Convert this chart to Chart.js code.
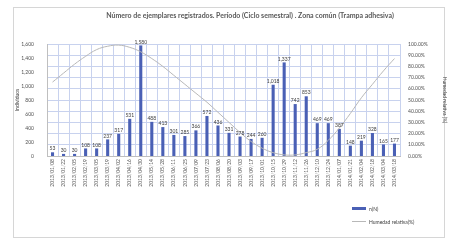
<!DOCTYPE html>
<html>
<head>
<meta charset="utf-8">
<script src="https://cdn.jsdelivr.net/npm/chart.js@4.4.0/dist/chart.umd.min.js"></script>
<style>
  html, body { margin: 0; padding: 0; background: #fff; }
  #wrap { position: relative; width: 462px; height: 244px; }
  #marco { position: absolute; left: 13px; top: 7px; width: 432px; height: 231px; border: 1px solid #d6d6d6; box-sizing: border-box; }
  canvas { position: absolute; left: 0; top: 0; }
</style>
</head>
<body>
<div id="wrap">
  <div id="marco"></div>
  <canvas id="grafico" width="462" height="244"></canvas>
</div>
<script>
// Datos
const fechas = [
  '2013/01/08', '2013/01/22', '2013/02/05', '2013/02/19', '2013/03/05', '2013/03/19',
  '2013/04/02', '2013/04/16', '2013/04/30', '2013/05/14', '2013/05/28', '2013/06/11',
  '2013/06/25', '2013/07/09', '2013/07/23', '2013/08/06', '2013/08/20', '2013/09/03',
  '2013/09/17', '2013/10/01', '2013/10/15', '2013/10/29', '2013/11/12', '2013/11/26',
  '2013/12/10', '2013/12/24', '2014/01/07', '2014/01/21', '2014/02/04', '2014/02/18',
  '2014/03/04', '2014/03/18'
];
const ejemplares = [
  53, 30, 30, 108, 108, 237, 317, 531, 1580, 488, 413, 301,
  285, 366, 572, 436, 331, 278, 244, 260, 1018, 1337, 742, 853,
  469, 469, 387, 148, 219, 328, 165, 177
];
const humedad = [
  66, 74, 82, 89, 95, 98, 99, 97, 93, 87, 80, 72,
  64, 56, 48, 39, 30, 21, 13, 7, 3, 1, 1, 3,
  6, 14, 25, 38, 52, 64, 76, 87
];
const ticksIzq = [0, 200, 400, 600, 800, 1000, 1200, 1400, 1600];

const titulo = 'Número de ejemplares registrados. Período (Ciclo semestral) . Zona común (Trampa adhesiva)';
const fuente = 'Lato, "Liberation Sans", sans-serif';

const fmt = (v) => v.toLocaleString('en-US');

// Título, etiquetas de las barras y leyenda
const extras = {
  id: 'extras',
  afterDatasetsDraw(chart) {
    const ctx = chart.ctx;
    const meta = chart.getDatasetMeta(0);
    ctx.save();
    ctx.font = '5px ' + fuente;
    ctx.fillStyle = '#404040';
    ctx.textAlign = 'center';
    ctx.textBaseline = 'bottom';
    meta.data.forEach((barra, i) => {
      ctx.fillText(fmt(ejemplares[i]), barra.x, barra.y - 1);
    });

    ctx.font = 'bold 7px ' + fuente;
    ctx.fillStyle = '#595959';
    ctx.textBaseline = 'middle';
    ctx.fillText(titulo, 250, 16);

    // leyenda
    ctx.textAlign = 'left';
    ctx.font = '5px ' + fuente;
    ctx.fillStyle = '#4a60b5';
    ctx.fillRect(352, 207, 14, 3);
    ctx.strokeStyle = '#b8b8b8';
    ctx.lineWidth = 1;
    ctx.beginPath();
    ctx.moveTo(352, 221.5);
    ctx.lineTo(366, 221.5);
    ctx.stroke();
    ctx.fillStyle = '#404040';
    ctx.fillText('n(N)', 369, 209);
    ctx.fillText('Humedad relativa(%)', 369, 222);
    ctx.restore();
  }
};

new Chart(document.getElementById('grafico'), {
  type: 'bar',
  data: {
    labels: fechas,
    datasets: [
      {
        label: 'n(N)',
        data: ejemplares,
        backgroundColor: '#4a60b5',
        barPercentage: 0.28,
        categoryPercentage: 1,
        yAxisID: 'y',
        order: 2
      },
      {
        type: 'line',
        label: 'Humedad relativa(%)',
        data: humedad,
        borderColor: '#b8b8b8',
        borderWidth: 1,
        pointRadius: 0,
        tension: 0.4,
        yAxisID: 'y2',
        order: 1
      }
    ]
  },
  options: {
    responsive: false,
    animation: false,
    layout: { padding: { left: 14, right: 14, top: 44, bottom: 48 } },
    plugins: {
      legend: { display: false },
      tooltip: { enabled: false }
    },
    scales: {
      x: {
        grid: { offset: true, color: '#c8d2ee', drawTicks: false },
        border: { color: '#bfbfbf' },
        ticks: {
          font: { size: 5, family: fuente },
          color: '#505050',
          minRotation: 90,
          maxRotation: 90,
          autoSkip: false,
          padding: 3
        },
        afterFit: (s) => { s.height = 40; }
      },
      y: {
        min: 0,
        max: 1600,
        afterBuildTicks: (s) => { s.ticks = ticksIzq.map((v) => ({ value: v })); },
        grid: { display: false },
        border: { color: '#bfbfbf' },
        ticks: {
          font: { size: 5, family: fuente },
          color: '#505050',
          padding: 5,
          callback: (v) => fmt(v)
        },
        title: {
          display: true,
          text: 'Individuos',
          font: { size: 5, family: fuente },
          color: '#404040',
          padding: 0
        },
        afterFit: (s) => { s.width = 33; }
      },
      y2: {
        position: 'right',
        min: 0,
        max: 100,
        grid: { color: '#c8d2ee', drawTicks: false },
        border: { display: false },
        ticks: {
          stepSize: 10,
          font: { size: 5, family: fuente },
          color: '#505050',
          padding: 8,
          callback: (v) => v.toFixed(2) + '%'
        },
        title: {
          display: true,
          text: 'Humedad relativa (%)',
          font: { size: 5, family: fuente },
          color: '#404040',
          padding: 0
        },
        afterFit: (s) => { s.width = 48; }
      }
    }
  },
  plugins: [extras]
});
</script>
</body>
</html>
